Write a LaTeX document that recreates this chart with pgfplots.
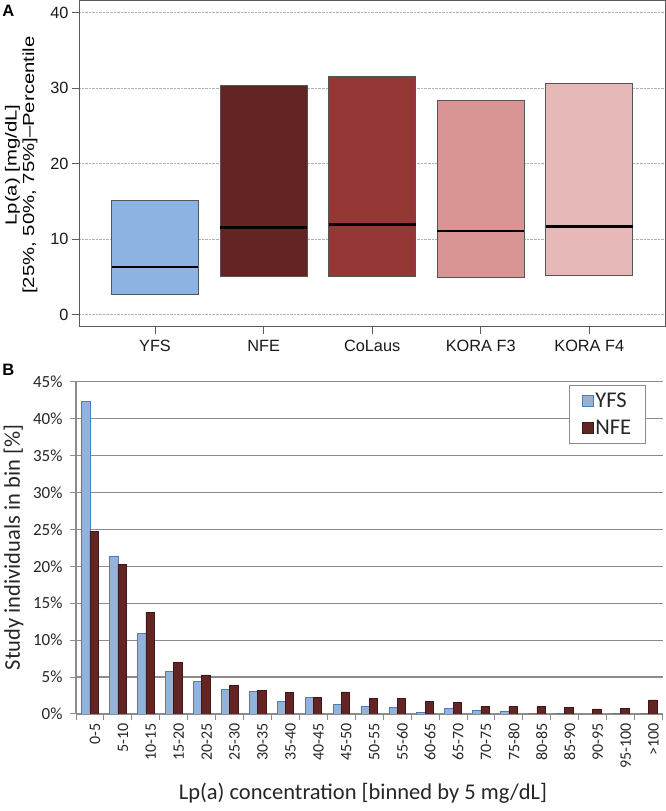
\documentclass[border=0pt]{standalone}
\usepackage{pgfplots}
\pgfplotsset{compat=1.18}
\usepgfplotslibrary{statistics}
\usepackage{graphicx}
\usepackage{fontspec}
\setmainfont{Liberation Sans}
\newfontfamily\carlito{Carlito}
\definecolor{cYFS}{HTML}{8DB3E2}
\definecolor{cNFE}{HTML}{632523}
\definecolor{cCoL}{HTML}{953735}
\definecolor{cF3}{HTML}{D99594}
\definecolor{cF4}{HTML}{E6B9B8}
\definecolor{bYFS}{HTML}{95B3D7}
\definecolor{bYFSe}{HTML}{4A7EBB}
\definecolor{bNFEe}{HTML}{3F1716}
\definecolor{axgray}{HTML}{5A5A5A}
\definecolor{boxgray}{HTML}{555555}
\definecolor{gridB}{HTML}{8C8C8C}

\pgfplotstableread{
x YFS NFE
0 42.3 24.7
1 21.4 20.3
2 10.9 13.8
3 5.8 6.95
4 4.4 5.3
5 3.3 3.85
6 3.1 3.2
7 1.7 2.9
8 2.25 2.25
9 1.35 3.0
10 1.0 2.1
11 0.85 2.08
12 0.25 1.76
13 0.75 1.58
14 0.5 1.0
15 0.35 1.0
16 0.05 1.0
17 0.05 0.86
18 0.0 0.68
19 0.05 0.72
20 0.1 1.9
}\histdata

\begin{document}
\begin{tikzpicture}
\path[use as bounding box] (0,0) rectangle (666bp,811bp);

% ---------------- Panel A ----------------
\begin{axis}[
  at={(79bp,484.3bp)}, anchor=south west, scale only axis,
  width=586.3bp, height=326.2bp,
  xmin=0.3, xmax=5.7, ymin=-1.6, ymax=41.6,
  xtick={1,2,3,4,5},
  xticklabels={YFS,NFE,CoLaus,KORA F3,KORA F4},
  ytick={0,10,20,30,40},
  tick align=outside, xtick pos=bottom, ytick pos=left,
  major tick length=7bp,
  tick style={draw=axgray, line width=0.8bp},
  axis line style={draw=axgray, line width=1bp},
  ymajorgrids, grid style={densely dotted, draw=gray!60, line width=0.7bp},
  ticklabel style={font=\fontsize{16.3bp}{19bp}\selectfont, text=black!90},
  xticklabel style={yshift=-3bp},
  /pgf/number format/assume math mode=true,
  boxplot/draw direction=y,
  boxplot/every median/.style={draw=black, line width=2.5bp},
  boxplot/whisker extend=0,
]
\addplot[fill=cYFS, draw=boxgray, line width=0.8bp, boxplot prepared={draw position=1, box extend=0.8,
  lower whisker=2.73, lower quartile=2.73, median=6.31, upper quartile=15.14, upper whisker=15.14}] coordinates {};
\addplot[fill=cNFE, draw=boxgray, line width=0.8bp, boxplot prepared={draw position=2, box extend=0.8,
  lower whisker=5.07, lower quartile=5.07, median=11.56, upper quartile=30.37, upper whisker=30.37}] coordinates {};
\addplot[fill=cCoL, draw=boxgray, line width=0.8bp, boxplot prepared={draw position=3, box extend=0.8,
  lower whisker=5.07, lower quartile=5.07, median=11.96, upper quartile=31.5, upper whisker=31.5}] coordinates {};
\addplot[fill=cF3, draw=boxgray, line width=0.8bp, boxplot prepared={draw position=4, box extend=0.8,
  lower whisker=4.9, lower quartile=4.9, median=11.07, upper quartile=28.38, upper whisker=28.38}] coordinates {};
\addplot[fill=cF4, draw=boxgray, line width=0.8bp, boxplot prepared={draw position=5, box extend=0.8,
  lower whisker=5.2, lower quartile=5.2, median=11.7, upper quartile=30.6, upper whisker=30.6}] coordinates {};
\end{axis}

\node[rotate=90, anchor=base, inner sep=0pt, font=\fontsize{16bp}{18bp}\selectfont]
  at (16.5bp,646bp) {\scalebox{1.27}[1]{Lp(a) [mg/dL]}};
\node[rotate=90, anchor=base, inner sep=0pt, font=\fontsize{16bp}{18bp}\selectfont]
  at (34bp,646bp) {\scalebox{1.27}[1]{[25\%, 50\%, 75\%]--Percentile}};
\node[font=\bfseries\fontsize{16.5bp}{19bp}\selectfont, inner sep=0pt] at (8.3bp,800bp) {A};

% ---------------- Panel B ----------------
\begin{axis}[
  at={(76bp,97bp)}, anchor=south west, scale only axis,
  width=586.5bp, height=332.3bp,
  xmin=-0.5, xmax=20.5, ymin=0, ymax=45,
  ybar=0pt, bar width=0.298,
  axis x line=bottom, axis y line=left,
  x axis line style={-}, y axis line style={-},
  axis line style={draw=gridB, line width=1.2bp},
  tick align=outside,
  major tick length=6bp,
  tick style={draw=gridB, line width=1bp},
  ytick={0,5,10,15,20,25,30,35,40,45},
  yticklabel={\pgfmathprintnumber{\tick}\%},
  xtick={-0.5,0.5,...,20.5},
  xticklabels={},
  extra x ticks={0,1,...,20},
  extra x tick labels={0-5,5-10,10-15,15-20,20-25,25-30,30-35,35-40,40-45,45-50,50-55,55-60,60-65,65-70,70-75,75-80,80-85,85-90,90-95,95-100,>100},
  extra x tick style={tick style={draw=none}, xticklabel style={rotate=90, anchor=east, yshift=-5bp, font=\carlito\fontsize{16bp}{18bp}\selectfont, text=black!85}},
  ymajorgrids, grid style={draw=gridB, line width=1.2bp},
  yticklabel style={font=\carlito\fontsize{17bp}{20bp}\selectfont, text=black!85, xshift=-4bp},
  /pgf/number format/assume math mode=true,
  legend style={at={(0.8401,0.9901)}, anchor=north west, draw=gridB, line width=1bp,
    fill=white, font=\carlito\fontsize{22.5bp}{24bp}\selectfont, text=black!85,
    inner xsep=13bp, inner ysep=6bp, row sep=8bp, nodes={inner sep=1.5bp}},
  legend cell align=left,
  legend image code/.code={\draw[#1, line width=0.6bp] (0bp,-5.5bp) rectangle (11bp,5.5bp);},
]
\addplot[fill=bYFS, draw=bYFSe, line width=0.6bp] table[x=x, y=YFS] {\histdata};
\addplot[fill=cNFE, draw=bNFEe, line width=0.6bp] table[x=x, y=NFE] {\histdata};
\legend{YFS,NFE}
\end{axis}

\node[rotate=90, font=\carlito\fontsize{22.5bp}{26bp}\selectfont, text=black!85, inner sep=0pt]
  at (13.5bp,263.5bp) {Study individuals in bin [\%]};
\node[font=\carlito\fontsize{22.5bp}{26bp}\selectfont, text=black!85, inner sep=0pt]
  at (363bp,18bp) {Lp(a) concentration [binned by 5 mg/dL]};
\node[font=\bfseries\fontsize{16.5bp}{19bp}\selectfont, inner sep=0pt] at (8.3bp,441.5bp) {B};
\end{tikzpicture}
\end{document}
